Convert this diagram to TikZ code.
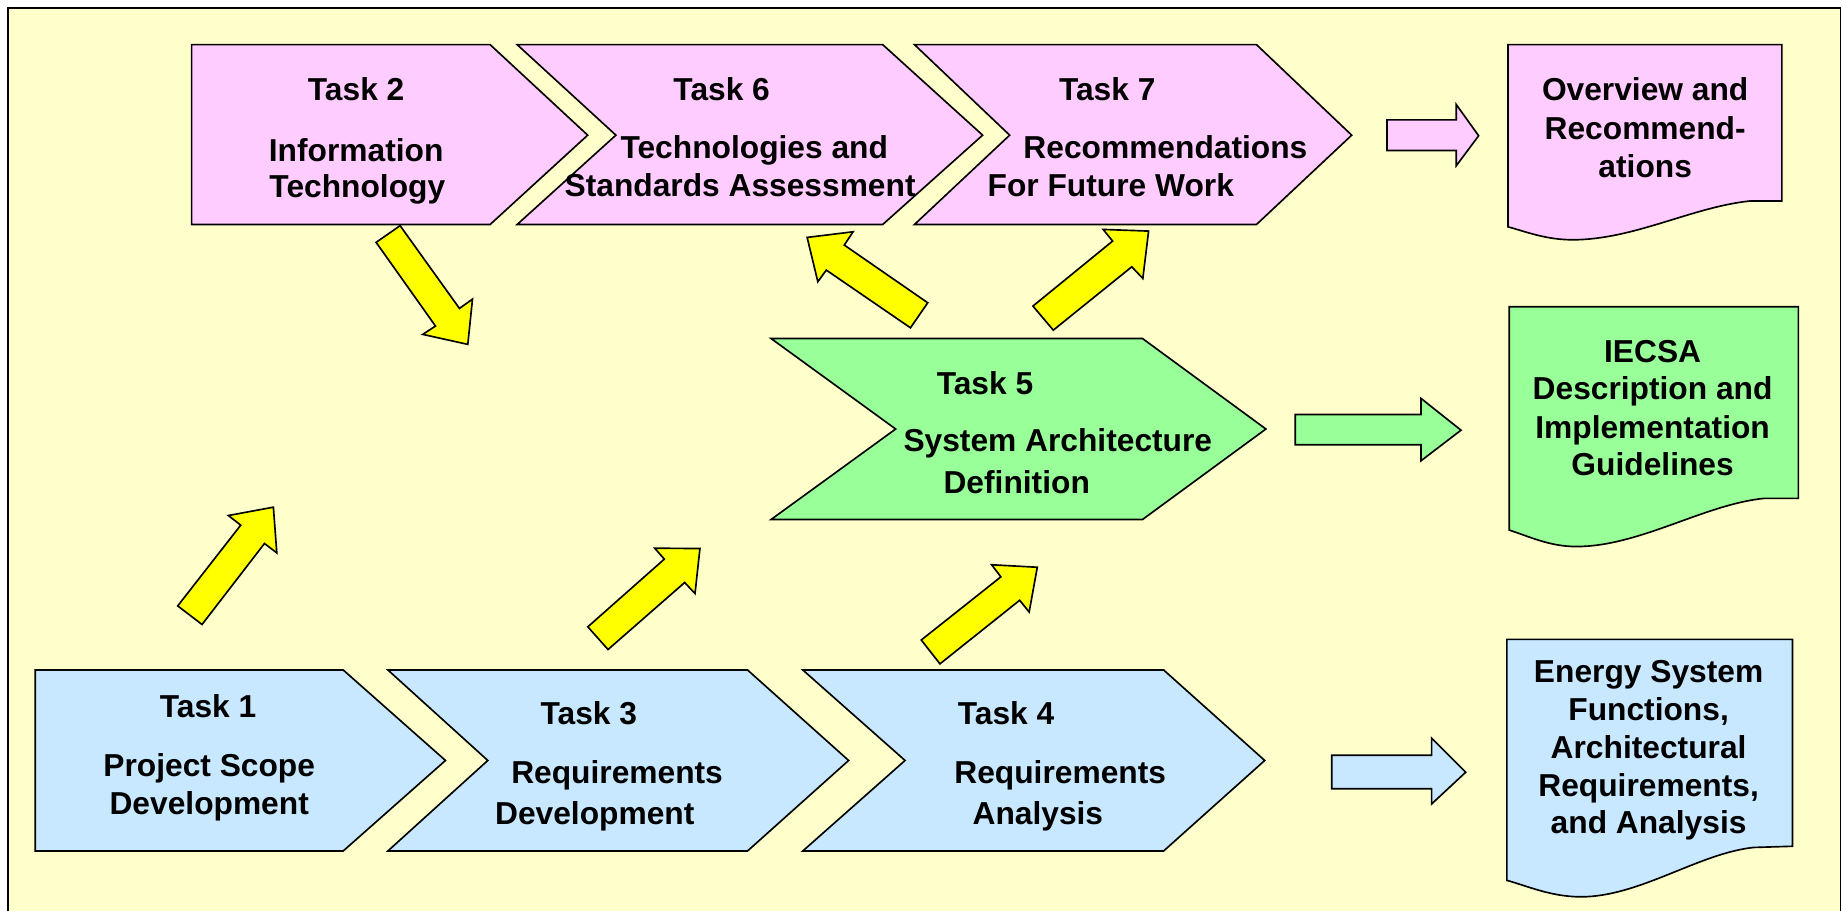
\documentclass[tikz,border=0pt]{standalone}
\usepackage{fontspec}
\setmainfont{Liberation Sans}
\definecolor{bgyellow}{HTML}{FFFFCC}
\definecolor{taskpink}{HTML}{FFCCFF}
\definecolor{taskgreen}{HTML}{99FF99}
\definecolor{taskblue}{HTML}{C8E8FF}
\definecolor{flowyellow}{HTML}{FFFF00}
\tikzset{
  shp/.style={draw=black, line width=0.7pt, line join=miter},
  pinkshape/.style={shp, fill=taskpink},
  greenshape/.style={shp, fill=taskgreen},
  blueshape/.style={shp, fill=taskblue},
  yellowarrow/.style={shp, fill=flowyellow},
  txt/.style={font=\bfseries\fontsize{13.5}{16}\selectfont, anchor=base, inner sep=0pt},
}
\newcommand{\putlbl}[4]{\node[txt] (#1) at (#2,#3+9.7) {#4};}
\begin{document}
\begin{tikzpicture}[x=0.5pt,y=-0.5pt]
\useasboundingbox (0,0) rectangle (1568,775);
\clip (0,0) rectangle (1568,775);
\fill[white] (0,0) rectangle (1568,775);
% frame
\path[shp, fill=bgyellow] (7,7) rectangle (1566,800);

% ---------- top row (pink) ----------
\path[pinkshape] (163,38) -- (417,38) -- (500,115) -- (417,191) -- (163,191) -- cycle;
\path[pinkshape] (440,38) -- (751,38) -- (836,115) -- (751,191) -- (440,191) -- (524,115) -- cycle;
\path[pinkshape] (778,38) -- (1069,38) -- (1150,115) -- (1069,191) -- (778,191) -- (859,115) -- cycle;

% ---------- middle (green) ----------
\path[greenshape] (656,288) -- (972,288) -- (1077,365) -- (972,442) -- (656,442) -- (762,365) -- cycle;

% ---------- bottom row (blue) ----------
\path[blueshape] (30,570) -- (292,570) -- (379,647) -- (292,724) -- (30,724) -- cycle;
\path[blueshape] (330,570) -- (636,570) -- (722,647) -- (636,724) -- (330,724) -- (415,647) -- cycle;
\path[blueshape] (683,570) -- (990,570) -- (1076,647) -- (990,724) -- (683,724) -- (770,647) -- cycle;

% ---------- document shapes ----------
\path[pinkshape] (1283,38) -- (1516,38) -- (1516,171) -- (1489,171)
   .. controls (1440,176) and (1390,204) .. (1338,204)
   .. controls (1315,204) and (1298,197) .. (1283,193) -- cycle;
\path[greenshape] (1284,261) -- (1530,261) -- (1530,424) -- (1501,424)
   .. controls (1450,429) and (1395,465) .. (1341,465)
   .. controls (1318,465) and (1300,456) .. (1284,451) -- cycle;
\path[blueshape] (1282,544) -- (1525,544) -- (1525,720) -- (1492,721)
   .. controls (1445,726) and (1395,763) .. (1345,763)
   .. controls (1320,763) and (1300,754) .. (1282,749) -- cycle;

% ---------- side block arrows ----------
\path[pinkshape] (1180,102) -- (1239,102) -- (1239,89) -- (1258,115.5) -- (1239,141) -- (1239,128) -- (1180,128) -- cycle;
\path[greenshape] (1102,352.6) -- (1209,352.6) -- (1209,339) -- (1243,366) -- (1209,392) -- (1209,378.4) -- (1102,378.4) -- cycle;
\path[blueshape] (1133,642.6) -- (1218,642.6) -- (1218,628) -- (1247,657) -- (1218,684) -- (1218,671) -- (1133,671) -- cycle;

% ---------- yellow block arrows ----------
\path[yellowarrow] (320,206.2) -- (340.4,192) -- (390.9,262.4) -- (402,254.5) -- (398,293) -- (359.7,284.5) -- (370.5,277.4) -- cycle;
\path[yellowarrow] (151.2,515.5) -- (171.9,531.3) -- (225,462.4) -- (235.5,470.4) -- (232.6,431.5) -- (194.3,438.6) -- (204.8,446.8) -- cycle;
\path[yellowarrow] (500.1,533.3) -- (517.3,552.6) -- (582.5,495.6) -- (591.3,505) -- (595.5,466.7) -- (557,466.4) -- (565.2,475.7) -- cycle;
\path[yellowarrow] (783.8,544.5) -- (799.7,564.8) -- (867.5,510.7) -- (875.6,520.7) -- (882.5,482.6) -- (843.7,480.5) -- (851.5,490.8) -- cycle;
\path[yellowarrow] (789.3,257.6) -- (774.6,278.9) -- (703,229.8) -- (695.8,239.7) -- (686.7,202) -- (725.8,197.2) -- (718.3,208.5) -- cycle;
\path[yellowarrow] (878.8,260.4) -- (896.1,280.9) -- (962.9,227) -- (972.3,236.9) -- (977.2,196.6) -- (938.5,195.2) -- (946.6,205.1) -- cycle;

% ---------- labels ----------
\putlbl{t2a}{303}{76}{Task 2}
\putlbl{t2b}{303}{127.5}{Information}
\putlbl{t2c}{304}{158}{Technology}

\putlbl{t6a}{614}{76}{Task 6}
\putlbl{t6b}{641.7}{125}{Technologies and}
\putlbl{t6c}{629.7}{157.5}{Standards Assessment}

\putlbl{t7a}{942}{76}{Task 7}
\putlbl{t7b}{991.5}{125}{Recommendations}
\putlbl{t7c}{945}{157.5}{For Future Work}

\putlbl{ova}{1399.7}{76}{Overview and}
\putlbl{ovb}{1399.7}{109}{Recommend-}
\putlbl{ovc}{1399.7}{141}{ations}

\putlbl{t5a}{838}{325.6}{Task 5}
\putlbl{t5b}{900}{374.7}{System Architecture}
\putlbl{t5c}{865}{410}{Definition}

\putlbl{iea}{1406}{299}{IECSA}
\putlbl{ieb}{1406}{330.5}{Description and}
\putlbl{iec}{1406}{363}{Implementation}
\putlbl{ied}{1406}{395}{Guidelines}

\putlbl{t1a}{177}{601}{Task 1}
\putlbl{t1b}{178}{651}{Project Scope}
\putlbl{t1c}{178}{683}{Development}

\putlbl{t3a}{501}{607}{Task 3}
\putlbl{t3b}{525}{657}{Requirements}
\putlbl{t3c}{506}{692}{Development}

\putlbl{t4a}{856}{607}{Task 4}
\putlbl{t4b}{902}{657}{Requirements}
\putlbl{t4c}{883}{692}{Analysis}

\putlbl{ena}{1402.6}{571}{Energy System}
\putlbl{enb}{1402.6}{603}{Functions,}
\putlbl{enc}{1402.6}{635.5}{Architectural}
\putlbl{end}{1402.6}{668}{Requirements,}
\putlbl{ene}{1402.6}{699}{and Analysis}
\end{tikzpicture}
\end{document}
